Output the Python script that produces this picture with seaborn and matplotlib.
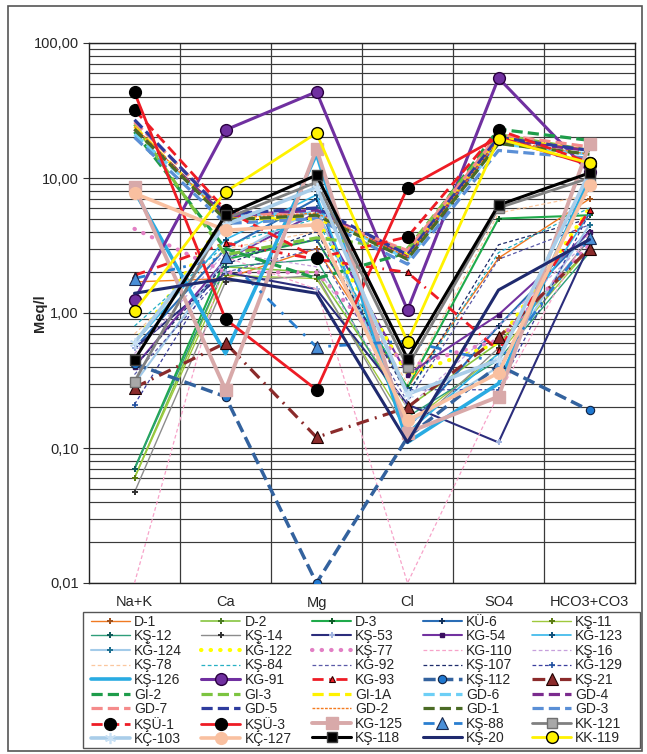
import numpy as np
import pandas as pd
import matplotlib
matplotlib.use("Agg")
import matplotlib.pyplot as plt
import matplotlib.ticker as mticker
from matplotlib.patches import Rectangle
import seaborn as sns

categories = ["Na+K", "Ca", "Mg", "Cl", "SO4", "HCO3+CO3"]
y_tick_values = [0.01, 0.1, 1, 10, 100]
y_tick_labels = ["0,01", "0,10", "1,00", "10,00", "100,00"]

series_names = [
    "D-1", "D-2", "D-3", "KÜ-6", "KŞ-11",
    "KŞ-12", "KŞ-14", "KŞ-53", "KG-54", "KĞ-123",
    "KĞ-124", "KĞ-122", "KŞ-77", "KG-110", "KŞ-16",
    "KŞ-78", "KŞ-84", "KG-92", "KŞ-107", "KĞ-129",
    "KŞ-126", "KG-91", "KG-93", "KŞ-112", "KŞ-21",
    "GI-2", "GI-3", "GI-1A", "GD-6", "GD-4",
    "GD-7", "GD-5", "GD-2", "GD-1", "GD-3",
    "KŞÜ-1", "KŞÜ-3", "KG-125", "KŞ-88", "KK-121",
    "KÇ-103", "KÇ-127", "KŞ-118", "KŞ-20", "KK-119",
]

na_k = [1.7, 0.06, 0.07, 0.55, 0.06,
        0.07, 0.047, 0.55, 0.4, 0.6,
        0.3, 0.6, 4.2, 0.01, 0.5,
        0.7, 0.8, 0.35, 0.4, 0.21,
        8.0, 1.25, 1.9, 0.42, 0.28,
        22, 25, 24, 21, 23,
        26, 27, 24, 23, 20,
        32, 43, 8.6, 1.8, 0.31,
        0.6, 7.7, 0.45, 1.4, 1.03]
ca = [1.8, 2.2, 2.5, 3.0, 1.9,
      2.2, 1.7, 2.0, 2.5, 3.5,
      2.5, 5.0, 2.0, 2.6, 2.8,
      3.0, 3.2, 2.0, 2.3, 2.6,
      0.5, 22.7, 3.3, 0.24, 0.6,
      3.0, 2.7, 5.0, 5.3, 5.2,
      5.6, 5.4, 5.0, 4.9, 4.6,
      5.8, 0.9, 0.27, 2.6, 5.0,
      4.5, 4.1, 5.3, 1.8, 7.9]
mg = [3.0, 2.0, 3.5, 7.0, 1.8,
      2.5, 1.9, 1.5, 5.5, 7.5,
      6.0, 5.0, 2.0, 1.5, 2.2,
      4.0, 5.0, 3.0, 4.0, 3.5,
      15.0, 43.5, 2.5, 0.01, 0.12,
      1.8, 3.6, 5.0, 5.5, 5.8,
      5.2, 6.0, 5.5, 5.3, 5.0,
      2.55, 0.27, 16.4, 0.56, 9.3,
      8.5, 4.5, 10.5, 1.4, 21.5]
cl = [0.28, 0.2, 0.28, 0.14, 0.15,
      0.17, 0.13, 0.21, 0.35, 0.13,
      0.15, 0.35, 0.4, 0.01, 0.2,
      0.3, 0.25, 0.22, 0.25, 0.27,
      0.11, 1.05, 2.0, 0.12, 0.2,
      2.8, 3.0, 2.7, 2.5, 2.6,
      2.9, 2.7, 2.6, 2.5, 2.3,
      3.66, 8.5, 0.13, 0.62, 0.4,
      0.25, 0.16, 0.46, 0.11, 0.61]
so4 = [2.55, 0.6, 5.0, 0.8, 0.5,
       0.45, 0.55, 0.11, 0.97, 0.5,
       0.4, 0.6, 0.63, 0.25, 0.8,
       5.5, 2.8, 2.5, 3.2, 0.27,
       0.3, 55, 0.53, 0.41, 0.66,
       23, 21, 20, 18, 19,
       21, 20, 19, 18, 16,
       22.7, 20, 0.24, 0.43, 6.0,
       0.45, 0.36, 6.3, 1.48, 19.5]
hco3 = [7.0, 3.0, 5.3, 4.0, 3.0,
        2.8, 3.5, 3.2, 4.0, 5.5,
        4.5, 6.0, 3.2, 4.0, 3.5,
        7.5, 6.0, 4.5, 5.0, 5.5,
        10, 11, 5.8, 0.19, 3.0,
        19, 16, 16, 15, 16,
        17, 16, 15, 15, 14,
        13, 12.5, 17.8, 3.6, 10,
        11, 8.9, 10.9, 3.5, 12.9]


def st(color, lw=1.0, ls="-", marker=None, ms=4, mfc=None, mec=None, mew=1.0, cap="butt"):
    d = dict(color=color, linewidth=lw, linestyle=ls, dash_capstyle=cap)
    if marker is not None:
        d.update(marker=marker, markersize=ms,
                 markerfacecolor=mfc if mfc is not None else color,
                 markeredgecolor=mec if mec is not None else color,
                 markeredgewidth=mew)
    return d

DASH = (0, (3.5, 1.6))
THIN_DASH = (0, (3, 2))
DOT = (0, (0.1, 2.2))
DASHDOT = (0, (4, 2, 0.6, 2))

styles = [
    st("#f07a22", 1.0, marker="+", ms=5, mec="#a0501a", mew=1.4),
    st("#86c540", 1.2, marker="+", ms=5, mec="#4a7a20", mew=1.4),
    st("#1faa4b", 1.5, marker="+", ms=5, mec="#0a5a25", mew=1.4),
    st("#2a6db6", 1.5, marker="+", ms=5, mec="#10305a", mew=1.4),
    st("#9fc93c", 1.0, marker="+", ms=5, mec="#5a7a10", mew=1.4),
    st("#2e9e7a", 1.0, marker="+", ms=5, mec="#105a5a", mew=1.4),
    st("#8c8c8c", 1.0, marker="+", ms=5, mec="#303030", mew=1.4),
    st("#2b2d7c", 1.5, marker="+", ms=5, mec="#a0b4e0", mew=1.4),
    st("#7232a0", 1.5, marker="s", ms=3.5, mfc="#3a1060", mec="#3a1060"),
    st("#36b6ea", 1.2, marker="+", ms=5, mec="#10507a", mew=1.4),
    st("#a3cbe9", 1.5, marker="+", ms=5, mec="#1d6f8f", mew=1.4),
    st("#ffff00", 3.0, DOT, cap="round"),
    st("#e27fc4", 3.0, DOT, cap="round"),
    st("#f7a3c9", 0.9, THIN_DASH),
    st("#c7a0dc", 0.9, THIN_DASH),
    st("#fbc79e", 0.9, THIN_DASH),
    st("#27b0c4", 0.9, THIN_DASH),
    st("#5a5aa8", 0.9, THIN_DASH),
    st("#1e2c6b", 0.9, THIN_DASH),
    st("#3a3f9e", 0.9, THIN_DASH, marker="+", ms=4, mec="#2050a0", mew=1.2),
    st("#29abe2", 2.6),
    st("#7030a0", 2.2, marker="o", ms=8.5, mfc="#7030a0", mec="#2a0040", mew=1.0),
    st("#ee1c25", 2.0, DASHDOT, marker="^", ms=5, mfc="#ee1c25", mec="#300000", mew=0.8),
    st("#33629e", 2.5, DASH, marker="o", ms=6, mfc="#1f78d0", mec="#102040", mew=0.8),
    st("#8b2b2b", 2.3, DASHDOT, marker="^", ms=8, mfc="#8b2b2b", mec="#200000", mew=0.8),
    st("#1e9c4a", 2.3, DASH),
    st("#7cc440", 2.3, DASH),
    st("#fff200", 2.3, DASH),
    st("#6dcff6", 2.3, DASH),
    st("#7b2b8e", 2.3, DASH),
    st("#f58b8b", 2.3, DASH),
    st("#2e3c9e", 2.3, DASH),
    st("#f47b20", 1.0, (0, (2, 1))),
    st("#4b6b25", 2.3, DASH),
    st("#5a8fd6", 2.3, DASH),
    st("#ee1c25", 2.0, (0, (4, 2)), marker="o", ms=8.5, mfc="black", mec="black"),
    st("#ee1c25", 2.0, marker="o", ms=8.5, mfc="black", mec="black"),
    st("#d8a9a9", 2.8, marker="s", ms=8.5, mfc="#d8a9a9", mec="#d8a9a9"),
    st("#2a7fd0", 2.0, (0, (4, 3, 1, 3)), marker="^", ms=8, mfc="#4a8fd8", mec="#1a2a50", mew=0.8),
    st("#808080", 2.0, marker="s", ms=7, mfc="#a8a8a8", mec="#707070"),
    st("#a9cde9", 2.6, marker=(6, 2, 0), ms=8, mec="#c8e0f4", mew=1.2),
    st("#f9c0a0", 2.6, marker="o", ms=8.5, mfc="#f9c0a0", mec="#f9c0a0"),
    st("#000000", 2.2, marker="s", ms=7, mfc="black", mec="#404040"),
    st("#1f2a6e", 2.2),
    st("#fff200", 2.0, marker="o", ms=8.5, mfc="#fff200", mec="black", mew=1.0),
]

sns.set_theme(style="white")
plt.rcParams["font.family"] = ["Liberation Sans", "DejaVu Sans"]

fig = plt.figure(figsize=(6.47, 7.54), dpi=100)
ax = fig.add_axes([89 / 647, 1 - 583 / 754, (635 - 89) / 647, (583 - 43) / 754])
ax.set_yscale("log")

value_cols = [na_k, ca, mg, cl, so4, hco3]
for i, name in enumerate(series_names):
    sub = pd.DataFrame({
        "pos": np.arange(len(categories)),
        "ion": categories,
        "value": [col[i] for col in value_cols],
    })
    sns.lineplot(data=sub, x="pos", y="value", ax=ax, label=name,
                 errorbar=None, sort=False, zorder=3 + i * 0.01, **styles[i])

ax.set_xlim(-0.5, len(categories) - 0.5)
ax.set_ylim(0.01, 100)
ax.set_xticks(range(len(categories)))
ax.set_xticklabels(categories, fontsize=10.5)
ax.set_xticks(np.arange(-0.5, len(categories), 1.0), minor=True)
ax.tick_params(axis="x", which="major", length=0, pad=9)
ax.tick_params(axis="x", which="minor", length=4, width=0.8, direction="out", color="#333333")
ax.set_yticks(y_tick_values)
ax.set_yticklabels(y_tick_labels, fontsize=10.5)
ax.yaxis.set_minor_locator(mticker.LogLocator(base=10, subs=np.arange(2, 10)))
ax.yaxis.set_minor_formatter(mticker.NullFormatter())
ax.tick_params(axis="y", which="major", length=4, width=0.8, direction="out", color="#333333", left=True)
ax.tick_params(axis="y", which="minor", length=0)
ax.grid(True, which="both", axis="y", color="#3a3a3a", linewidth=0.85, zorder=1)
for b in np.arange(0.5, len(categories) - 0.5, 1.0):
    ax.axvline(b, color="#3a3a3a", linewidth=0.9, zorder=1)
ax.set_axisbelow(True)
for s in ax.spines.values():
    s.set_visible(True)
    s.set_color("#222222")
    s.set_linewidth(1.0)
ax.set_xlabel("")
ax.set_ylabel("")
fig.text(40 / 647, 1 - 313 / 754, "Meq/l", rotation=90, ha="center", va="center",
         fontsize=10.5, fontweight="bold")

handles, labels = ax.get_legend_handles_labels()
ax.get_legend().remove()
ncol, nrow = 5, 9
order = [r * ncol + c for c in range(ncol) for r in range(nrow)]
leg = fig.legend([handles[k] for k in order], [labels[k] for k in order],
                 loc="upper left", bbox_to_anchor=(88 / 647, 1 - 749 / 754, (626 - 88) / 647, (749 - 612) / 754),
                 mode="expand", ncol=ncol, fontsize=10, handlelength=2.8, handletextpad=0.3,
                 labelspacing=0.04, columnspacing=0.5, borderpad=0.2, frameon=False,
                 borderaxespad=0)

fig.add_artist(Rectangle((83 / 647, 1 - 748 / 754), (640 - 83) / 647, (748 - 612) / 754,
                         transform=fig.transFigure, fill=False, edgecolor="#555555", linewidth=1.0))
fig.add_artist(Rectangle((8 / 647, 1 - 751 / 754), (642 - 8) / 647, (751 - 6) / 754,
                         transform=fig.transFigure, fill=False, edgecolor="#555555", linewidth=1.2))

fig.savefig("out.png", dpi=100)
